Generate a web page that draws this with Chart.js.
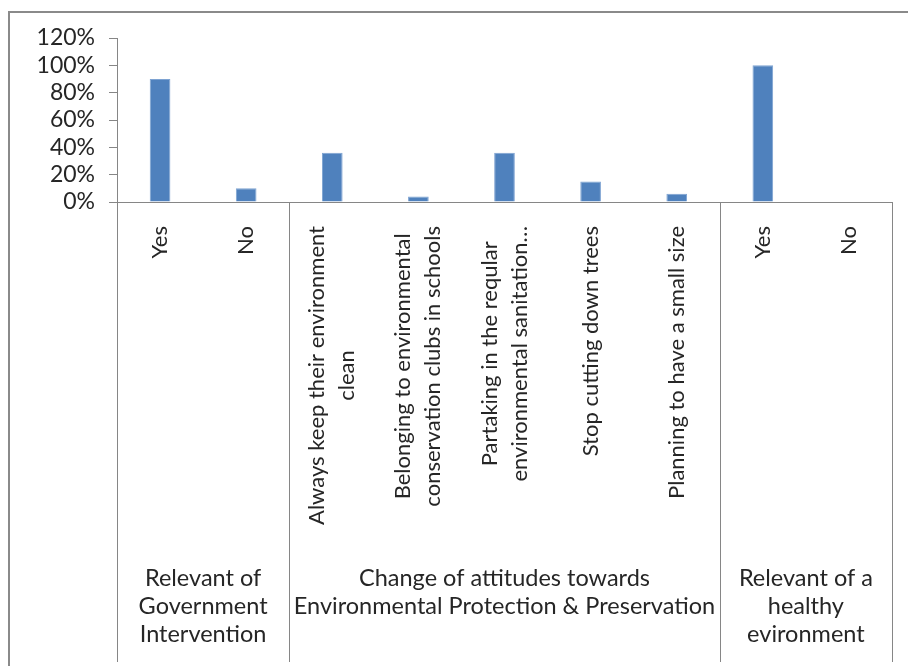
<!DOCTYPE html>
<html>
<head>
<meta charset="utf-8">
<script src="https://cdn.jsdelivr.net/npm/chart.js@4.4.0/dist/chart.umd.min.js"></script>
<style>
  html, body { margin: 0; padding: 0; background: #fff; }
  #wrap { width: 908px; height: 666px; }
</style>
</head>
<body>
<div id="wrap"><canvas id="my-chart" width="908" height="666"></canvas></div>
<script>
// category labels, one array of lines per bar
const categories = [
    ['Yes'],
    ['No'],
    ['Always keep their environment', 'clean'],
    ['Belonging to environmental', 'conservation clubs in schools'],
    ['Partaking in the reqular', 'environmental sanitation…'],
    ['Stop cutting down trees'],
    ['Planning to have a small size'],
    ['Yes'],
    ['No']
];
const percentages = [0.90, 0.10, 0.36, 0.04, 0.36, 0.15, 0.06, 1.00, 0];

// outer groups along the bottom and how many bars each one spans
const groupLabels = [
    ['Relevant of', 'Government', 'Intervention'],
    ['Change of attitudes towards', 'Environmental Protection & Preservation'],
    ['Relevant of a', 'healthy', 'evironment']
];
const groupSizes = [2, 5, 2];

const yTicks = [0, 0.2, 0.4, 0.6, 0.8, 1.0, 1.2];

const FONT = 'Lato, "Open Sans", sans-serif';
const AXIS = '#868686';
const TEXT = '#262626';

// frame, group separators and the two rows of category text
const axisLabels = {
    id: 'axisLabels',
    beforeDraw(chart) {
        const ctx = chart.ctx;
        ctx.save();
        ctx.strokeStyle = '#8a8a8a';
        ctx.lineWidth = 2;
        ctx.beginPath();
        ctx.moveTo(9, chart.height);
        ctx.lineTo(9, 12);
        ctx.lineTo(chart.width, 12);
        ctx.stroke();
        ctx.restore();
    },
    afterDraw(chart) {
        const ctx = chart.ctx;
        const x = chart.scales.x;
        const area = chart.chartArea;
        const half = (x.getPixelForTick(1) - x.getPixelForTick(0)) / 2;
        const bottom = chart.height - 4;

        ctx.save();
        // vertical lines between groups
        ctx.strokeStyle = AXIS;
        ctx.lineWidth = 1;
        let idx = 0;
        const edges = [x.getPixelForTick(0) - half];
        groupSizes.forEach(n => {
            idx += n;
            edges.push(x.getPixelForTick(idx - 1) + half);
        });
        edges.forEach(px => {
            ctx.beginPath();
            ctx.moveTo(Math.round(px) + 0.5, area.bottom);
            ctx.lineTo(Math.round(px) + 0.5, bottom);
            ctx.stroke();
        });

        // rotated bar labels
        ctx.fillStyle = TEXT;
        ctx.font = '22px ' + FONT;
        ctx.textAlign = 'center';
        ctx.textBaseline = 'middle';
        const lineH = 30;
        categories.forEach((lines, i) => {
            const px = x.getPixelForTick(i);
            const w = Math.max(...lines.map(l => ctx.measureText(l).width));
            ctx.save();
            ctx.translate(px, area.bottom + 24);
            ctx.rotate(-Math.PI / 2);
            lines.forEach((l, k) => {
                ctx.fillText(l, -w / 2, (k - (lines.length - 1) / 2) * lineH);
            });
            ctx.restore();
        });

        // group titles
        ctx.font = '23.5px ' + FONT;
        groupLabels.forEach((lines, g) => {
            const cx = (edges[g] + edges[g + 1]) / 2;
            lines.forEach((l, k) => {
                ctx.fillText(l, cx, 578 + k * 28);
            });
        });
        ctx.restore();
    }
};

const ctx = document.getElementById('my-chart').getContext('2d');

const chart = new Chart(ctx, {
    type: 'bar',
    data: {
        labels: categories.map(c => c.join(' ')),
        datasets: [
            {
                data: percentages,
                backgroundColor: '#4f81bd',
                borderColor: '#7ea3d2',
                borderWidth: 1,
                barPercentage: 0.24,
                categoryPercentage: 1
            }
        ]
    },
    options: {
        responsive: false,
        animation: false,
        layout: { padding: { left: 0, top: 38, right: 16, bottom: 0 } },
        plugins: {
            legend: { display: false },
            tooltip: { enabled: false }
        },
        scales: {
            x: {
                ticks: { display: false },
                grid: { display: false },
                border: { color: AXIS, width: 1 },
                afterFit(scale) { scale.height = 464; }
            },
            y: {
                min: 0,
                max: 1.2,
                afterBuildTicks(scale) { scale.ticks = yTicks.map(v => ({ value: v })); },
                ticks: {
                    autoSkip: false,
                    padding: 14,
                    color: TEXT,
                    font: { family: FONT, size: 23 },
                    callback: v => Math.round(v * 100) + '%'
                },
                grid: { drawOnChartArea: false, drawTicks: true, tickLength: 8, color: AXIS },
                border: { color: AXIS, width: 1 },
                afterFit(scale) { scale.width = 117; }
            }
        }
    },
    plugins: [axisLabels]
});
</script>
</body>
</html>
